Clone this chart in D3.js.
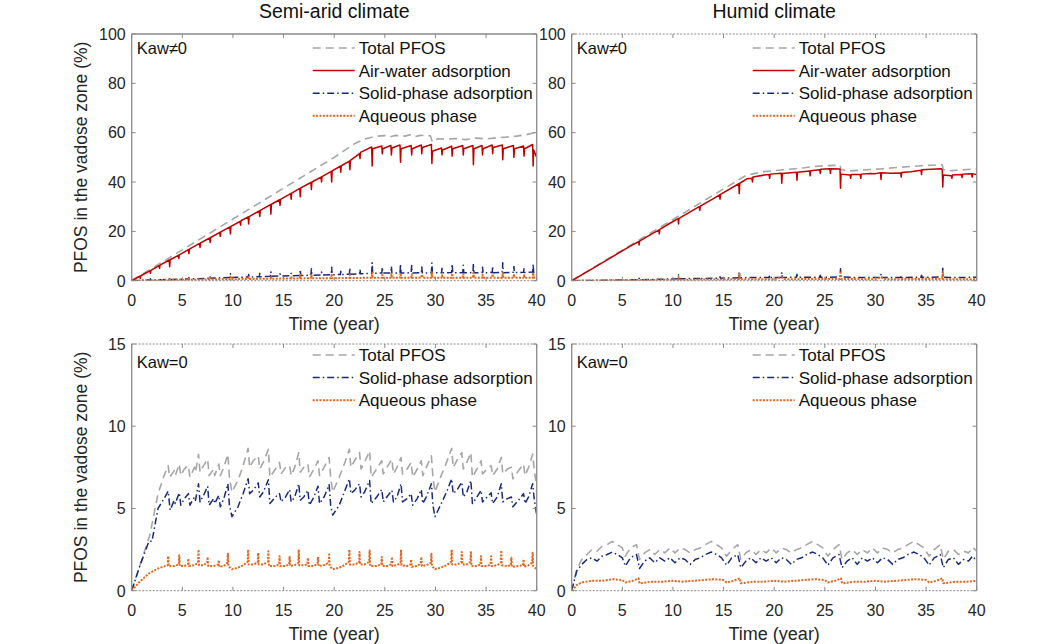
<!DOCTYPE html>
<html>
<head>
<meta charset="utf-8">
<script src="https://cdn.jsdelivr.net/npm/d3@7"></script>
<style>
  body { margin: 0; background: #fff; }
  svg { font-family: "Liberation Sans", Arial, sans-serif; }
</style>
</head>
<body>
<svg id="chart" width="1050" height="644"></svg>
<script>
// ---- data: [time (year), % of PFOS in vadose zone] ----
const semiTotal = [[0,0],[2,5],[5,12.5],[10,25],[15,37.5],[20,50],[22,55.5],[23,57.4],[24,58.5],[25,58.8],[25.5,58.3],[26,58.9],[27,58.6],[27.5,59.2],[28,58.4],[28.5,58.9],[29.5,58.7],[29.7,56.2],[30.2,57.5],[31,57.4],[32,57.6],[33,57.2],[34,57.8],[35,57.5],[36,57.9],[37,58.2],[38,58.6],[39,59.2],[39.8,60],[40,58.5]];
const semiAirWater = [[0,0],[0.8,1.8],[0.85,1.0],[0.9,2.0],[1.8,4.0],[1.85,3.0],[1.9,4.2],[2.7,6.1],[2.75,5.0],[2.8,6.3],[3.7,8.4],[3.75,5.7],[3.8,8.5],[4.6,10.3],[4.65,9.0],[4.7,10.5],[5.6,12.6],[5.65,11.0],[5.7,12.8],[6.7,15.1],[6.75,13.5],[6.8,15.3],[7.7,17.3],[7.75,15.5],[7.8,17.5],[8.7,19.6],[8.75,18.0],[8.8,19.8],[9.7,21.8],[9.75,19.0],[9.8,22.0],[10.7,24.0],[10.75,22.5],[10.8,24.3],[11.5,25.9],[11.55,23.0],[11.6,26.0],[12.6,28.3],[12.65,26.0],[12.7,28.5],[13.7,30.8],[13.75,27.0],[13.8,31.0],[14.6,32.8],[14.65,30.5],[14.7,33.0],[15.7,35.3],[15.75,33.0],[15.8,35.5],[16.6,37.4],[16.65,34.0],[16.7,37.6],[17.7,39.8],[17.75,37.0],[17.8,40.0],[18.7,42.0],[18.75,40.0],[18.8,42.2],[19.7,44.3],[19.75,40.0],[19.8,44.5],[20.6,46.4],[20.65,44.0],[20.7,46.6],[21.5,48.5],[21.55,45.0],[21.6,48.8],[22.5,51.5],[22.55,49.5],[22.6,52],[23.7,54.2],[23.75,46.5],[23.8,53.5],[24.7,54.6],[24.75,51.5],[24.8,53.5],[25.6,54.8],[25.65,51],[25.7,53.8],[26.5,55],[26.55,48],[26.6,53.5],[27.6,54.8],[27.65,51],[27.7,53.5],[28.6,55],[28.65,51.5],[28.7,54],[29.6,55.2],[29.65,47.5],[29.7,52.5],[30.6,53.8],[30.65,51],[30.7,53],[31.6,54.5],[31.65,50.5],[31.7,53.5],[32.7,54.8],[32.75,51],[32.8,53.5],[33.7,54.8],[33.75,47],[33.8,53.5],[34.6,54.8],[34.65,51],[34.7,53.5],[35.6,55],[35.65,51.5],[35.7,54],[36.6,55],[36.65,49],[36.7,53.5],[37.7,54.8],[37.75,50],[37.8,53.5],[38.7,54.6],[38.75,50.5],[38.8,53.5],[39.6,55.2],[39.65,46.5],[39.7,53],[40,50]];
const semiSolid = [[0,0],[1.8,0.3],[1.85,0.8],[1.9,0.3],[3.7,0.5],[3.75,1.3],[3.8,0.5],[5.6,0.7],[5.65,1.3],[5.7,0.7],[7.7,1.0],[7.75,1.8],[7.8,1.0],[9.7,1.3],[9.75,2.8],[9.8,1.3],[11.5,1.5],[11.55,2.5],[11.6,1.5],[12.6,1.6],[12.65,3.0],[12.7,1.6],[13.7,1.8],[13.75,3.6],[13.8,1.8],[14.6,1.9],[14.65,2.8],[14.7,1.9],[15.7,2.0],[15.75,3.0],[15.8,2.0],[16.6,2.1],[16.65,4.5],[16.7,2.1],[17.7,2.2],[17.75,4.8],[17.8,2.2],[18.7,2.3],[18.75,3.5],[18.8,2.3],[19.7,2.4],[19.75,5.5],[19.8,2.4],[20.6,2.5],[20.65,3.8],[20.7,2.5],[21.5,2.6],[21.55,5.2],[21.6,2.6],[22.5,2.8],[22.55,4.5],[22.6,2.8],[23.7,3.0],[23.75,7.3],[23.8,3.0],[24.7,3.1],[24.75,5.5],[24.8,3.1],[25.6,3.1],[25.65,5.8],[25.7,3.1],[26.5,3.2],[26.55,6.8],[26.6,3.1],[27.6,3.2],[27.65,6.2],[27.7,3.1],[28.6,3.2],[28.65,5.6],[28.7,3.1],[29.6,3.2],[29.65,7.2],[29.7,3.2],[30.6,3.2],[30.65,5.0],[30.7,3.2],[31.6,3.3],[31.65,6.8],[31.7,3.2],[32.7,3.3],[32.75,6.3],[32.8,3.2],[33.7,3.3],[33.75,7.0],[33.8,3.2],[34.6,3.3],[34.65,5.5],[34.7,3.2],[35.6,3.3],[35.65,6.0],[35.7,3.2],[36.6,3.4],[36.65,7.3],[36.7,3.2],[37.7,3.4],[37.75,5.8],[37.8,3.3],[38.7,3.4],[38.75,4.8],[38.8,3.3],[39.6,3.5],[39.65,6.8],[39.7,3.4],[40,3.5]];
const semiAqueous = [[0,0],[1.8,0.2],[1.85,0.6],[1.9,0.2],[3.7,0.3],[3.75,1.0],[3.8,0.3],[5.6,0.4],[5.65,0.9],[5.7,0.4],[7.7,0.5],[7.75,1.3],[7.8,0.5],[9.7,0.6],[9.75,1.6],[9.8,0.6],[11.5,0.7],[11.55,1.4],[11.6,0.7],[13.7,0.8],[13.75,1.8],[13.8,0.8],[15.7,0.9],[15.75,1.7],[15.8,0.9],[16.6,0.9],[16.65,2.4],[16.7,0.9],[17.7,1.0],[17.75,2.2],[17.8,1.0],[19.7,1.0],[19.75,2.8],[19.8,1.0],[21.5,1.1],[21.55,2.5],[21.6,1.1],[23.7,1.2],[23.75,3.3],[23.8,1.2],[24.7,1.2],[24.75,2.4],[24.8,1.2],[25.6,1.2],[25.65,2.8],[25.7,1.2],[26.5,1.2],[26.55,3.2],[26.6,1.2],[27.6,1.2],[27.65,2.6],[27.7,1.2],[28.6,1.2],[28.65,2.5],[28.7,1.2],[29.6,1.2],[29.65,3.4],[29.7,1.2],[30.6,1.2],[30.65,2.2],[30.7,1.2],[31.6,1.2],[31.65,3.0],[31.7,1.2],[32.7,1.2],[32.75,2.7],[32.8,1.2],[33.7,1.2],[33.75,3.2],[33.8,1.2],[34.6,1.2],[34.65,2.4],[34.7,1.2],[35.6,1.2],[35.65,2.7],[35.7,1.2],[36.6,1.2],[36.65,3.3],[36.7,1.2],[37.7,1.2],[37.75,2.6],[37.8,1.2],[38.7,1.2],[38.75,2.2],[38.8,1.2],[39.6,1.2],[39.65,3.2],[39.7,1.2],[40,1.3]];

const humidTotal = [[0,0],[5,12.4],[10,24.8],[15,37.2],[16.5,40.9],[17.2,42.6],[18,43.4],[19,44.2],[20,44.6],[21,45],[22,45.4],[23,45.8],[24,46.3],[25,46.6],[26.5,46.8],[26.6,45],[27.5,44.5],[28.5,44.8],[29.5,45.1],[30.5,45.3],[31.5,45.7],[32.5,46],[33.5,46.3],[34.5,46.6],[35.5,46.8],[36.6,47],[36.7,45],[37.5,44.6],[38.5,44.9],[39.5,45.2],[40,45.4]];
const humidAirWater = [[0,0],[2,4.8],[4,9.7],[6,14.5],[6.6,15.8],[6.65,14.5],[6.7,16],[8,19.2],[8.6,20.5],[8.65,19],[8.7,20.8],[10,24],[10.5,25.2],[10.55,23],[10.6,25.3],[12,28.6],[12.6,30],[12.65,28.5],[12.7,30.2],[14,33.3],[14.6,34.8],[14.65,33],[14.7,35],[16.5,39.3],[16.55,35.3],[16.6,39.5],[17.3,41.3],[17.8,41.5],[17.85,40],[17.9,42],[19,42.8],[19.5,43],[19.55,41.5],[19.6,43.2],[20.7,43.6],[20.75,39.5],[20.8,43.5],[22.2,44],[22.25,40.7],[22.3,44],[23.5,44.5],[23.55,42.5],[23.6,44.6],[24.5,45],[24.55,43.5],[24.6,45.2],[25.5,45.4],[25.55,43.5],[25.6,45.4],[26.5,45.3],[26.55,37.5],[26.6,43.2],[27.5,42.8],[27.55,41.5],[27.6,43],[28.5,43],[28.55,41.5],[28.6,43.2],[29.5,43.5],[30,43.4],[30.5,43.8],[30.55,41],[30.6,43.8],[31.5,43.6],[32.5,43.7],[32.55,42],[32.6,43.9],[33.5,44.2],[34.5,44.8],[34.55,43],[34.6,45],[35.5,45.2],[36.5,45.4],[36.6,44.8],[36.65,38],[36.7,42.8],[37.5,42.5],[37.55,41.5],[37.6,42.8],[38.5,43],[38.55,41.8],[38.6,43.2],[39.5,43.4],[39.55,42],[39.6,43.4],[40,43]];
const humidSolid = [[0,0],[5,0.3],[6.6,0.4],[6.65,1.0],[6.7,0.4],[10,0.7],[10.5,0.8],[10.55,2.4],[10.6,0.8],[12.6,0.9],[12.65,1.5],[12.7,0.9],[14.6,1.0],[14.65,1.6],[14.7,1.0],[16.5,1.2],[16.55,3.8],[16.6,1.2],[18,1.3],[19.5,1.3],[19.55,2.2],[19.6,1.3],[20.7,1.3],[20.75,3.4],[20.8,1.3],[22.2,1.4],[22.25,2.6],[22.3,1.4],[24.5,1.4],[24.55,2.2],[24.6,1.4],[26.5,1.5],[26.55,4.8],[26.6,1.5],[28,1.3],[30.5,1.3],[30.55,2.8],[30.6,1.3],[32.5,1.3],[32.55,2.3],[32.6,1.3],[34.5,1.4],[34.55,2.2],[34.6,1.4],[36.6,1.5],[36.65,5],[36.7,1.4],[38,1.3],[40,1.4]];
const humidAqueous = [[0,0],[5,0.2],[10,0.4],[10.5,0.4],[10.55,1.5],[10.6,0.4],[15,0.5],[16.5,0.6],[16.55,2.8],[16.6,0.6],[20,0.6],[20.75,1.5],[21,0.6],[25,0.7],[26.5,0.7],[26.55,3.2],[26.6,0.7],[30,0.6],[30.55,1.4],[31,0.6],[35,0.7],[36.6,0.7],[36.65,3.5],[36.7,0.6],[40,0.6]];

const semiTotal0 = [[0,0],[1,1.9],[1.8,3.4],[2.6,5.9],[3.2,7.0],[3.6,7.6],[3.75,6.9],[4.2,7.3],[4.3,7.0],[4.7,7.7],[4.85,7.0],[5.2,7.4],[5.6,7.6],[5.75,6.9],[6.2,7.5],[6.3,7.2],[6.6,8.3],[6.75,7.2],[7.1,7.6],[7.5,8.0],[7.65,7.0],[8.1,7.4],[8.2,7.0],[8.6,7.7],[8.75,7.0],[9.1,7.5],[9.5,8.3],[9.65,6.9],[9.9,6.0],[10.5,6.7],[11.0,7.6],[11.5,8.65],[11.65,7.5],[12.0,7.9],[12.5,8.2],[12.65,7.4],[13.0,7.8],[13.5,8.6],[13.65,6.9],[14.2,7.4],[14.6,7.8],[14.75,7.1],[15.2,7.5],[15.6,7.6],[15.75,7.0],[16.1,7.5],[16.5,8.4],[16.65,7.2],[17.0,7.5],[17.4,7.7],[17.55,6.9],[18.0,7.4],[18.4,7.9],[18.55,7.0],[19.0,7.5],[19.5,8.1],[19.65,6.9],[19.85,6.0],[20.5,6.9],[21.0,7.7],[21.5,8.6],[21.65,7.5],[22.0,7.9],[22.5,8.4],[22.65,7.4],[23.0,7.8],[23.5,8.5],[23.65,6.9],[24.2,7.4],[24.7,7.9],[24.85,7.1],[25.2,7.5],[25.7,8.0],[25.85,7.1],[26.2,7.5],[26.6,8.1],[26.75,7.1],[27.2,7.4],[27.6,7.8],[27.75,6.9],[28.2,7.4],[28.6,7.9],[28.75,7.0],[29.1,7.5],[29.6,8.2],[29.75,6.9],[29.95,6.0],[30.5,6.9],[31.1,7.8],[31.6,8.65],[31.75,7.5],[32.1,7.9],[32.6,8.4],[32.75,7.4],[33.1,7.8],[33.5,8.4],[33.65,6.9],[34.1,7.4],[34.5,7.9],[34.65,7.1],[35.1,7.4],[35.5,7.6],[35.65,7.0],[36.1,7.4],[36.5,8.1],[36.65,7.1],[37.1,7.4],[37.5,7.5],[37.65,6.8],[38.2,7.3],[38.7,7.7],[38.85,7.0],[39.2,7.5],[39.6,8.3],[39.75,7.4],[40,6.3]];
const semiSolid0 = [[0,0],[0.8,1.5],[1.7,3.0],[2.0,3.0],[2.6,5.0],[3.2,5.6],[3.6,6.05],[3.8,4.9],[4.2,5.5],[4.3,5.3],[4.7,5.95],[4.85,5.2],[5.2,5.6],[5.6,5.9],[5.75,5.2],[6.2,5.7],[6.3,5.5],[6.6,6.5],[6.75,5.4],[7.1,5.8],[7.5,6.35],[7.65,5.2],[8.1,5.6],[8.2,5.3],[8.6,5.8],[8.75,5.1],[9.1,5.6],[9.5,6.5],[9.65,5.2],[9.9,4.5],[10.5,5.1],[11.0,5.9],[11.5,6.8],[11.65,5.9],[12.0,6.1],[12.5,6.55],[12.65,5.7],[13.0,6.0],[13.5,6.75],[13.65,5.3],[14.2,5.7],[14.6,5.9],[14.75,5.4],[15.2,5.7],[15.6,6.15],[15.75,5.4],[16.1,5.7],[16.5,6.5],[16.65,5.5],[17.0,5.7],[17.4,6.1],[17.55,5.2],[18.0,5.7],[18.4,6.35],[18.55,5.3],[19.0,5.7],[19.5,6.45],[19.65,5.2],[19.85,4.6],[20.5,5.2],[21.0,6.0],[21.5,6.8],[21.65,5.9],[22.0,6.1],[22.5,6.5],[22.65,5.7],[23.0,6.0],[23.5,6.7],[23.65,5.3],[24.2,5.7],[24.7,6.15],[24.85,5.4],[25.2,5.7],[25.7,6.1],[25.85,5.4],[26.2,5.7],[26.6,6.5],[26.75,5.4],[27.2,5.6],[27.6,5.9],[27.75,5.2],[28.2,5.6],[28.6,6.15],[28.75,5.3],[29.1,5.7],[29.6,6.5],[29.75,5.2],[29.95,4.5],[30.5,5.2],[31.1,6.0],[31.6,6.8],[31.75,5.9],[32.1,6.1],[32.6,6.6],[32.75,5.7],[33.1,6.0],[33.5,6.7],[33.65,5.3],[34.1,5.7],[34.5,6.1],[34.65,5.4],[35.1,5.7],[35.5,5.95],[35.65,5.3],[36.1,5.7],[36.5,6.5],[36.65,5.4],[37.1,5.6],[37.5,5.7],[37.65,5.1],[38.2,5.5],[38.7,5.9],[38.85,5.3],[39.2,5.7],[39.6,6.5],[39.75,5.6],[40,4.6]];
const semiAqueous0 = [[0,0],[0.8,0.55],[1.7,1.05],[2.6,1.35],[3.55,1.55],[3.6,2.1],[3.65,1.5],[4.2,1.5],[4.65,1.6],[4.7,2.15],[4.75,1.5],[5.2,1.5],[5.55,1.6],[5.6,1.95],[5.65,1.5],[6.2,1.55],[6.55,1.7],[6.6,2.5],[6.65,1.55],[7.1,1.55],[7.45,1.7],[7.5,2.05],[7.55,1.5],[8.1,1.5],[8.55,1.6],[8.6,1.85],[8.65,1.45],[9.1,1.5],[9.45,1.7],[9.5,2.25],[9.55,1.5],[9.9,1.3],[10.5,1.4],[11.0,1.55],[11.45,1.75],[11.5,2.5],[11.55,1.6],[12.0,1.6],[12.45,1.7],[12.5,2.3],[12.55,1.6],[13.0,1.6],[13.45,1.75],[13.5,2.4],[13.55,1.5],[14.2,1.5],[14.55,1.6],[14.6,2.1],[14.65,1.5],[15.2,1.5],[15.55,1.6],[15.6,2.05],[15.65,1.5],[16.1,1.55],[16.45,1.7],[16.5,2.45],[16.55,1.55],[17.0,1.55],[17.35,1.6],[17.4,2.0],[17.45,1.5],[18.0,1.5],[18.35,1.65],[18.4,2.05],[18.45,1.5],[19.0,1.55],[19.45,1.7],[19.5,2.2],[19.55,1.5],[19.85,1.3],[20.5,1.4],[21.0,1.55],[21.45,1.75],[21.5,2.5],[21.55,1.6],[22.0,1.6],[22.45,1.7],[22.5,2.35],[22.55,1.6],[23.0,1.6],[23.45,1.75],[23.5,2.45],[23.55,1.5],[24.2,1.5],[24.65,1.6],[24.7,2.05],[24.75,1.5],[25.2,1.5],[25.65,1.6],[25.7,2.05],[25.75,1.5],[26.2,1.55],[26.55,1.7],[26.6,2.5],[26.65,1.55],[27.2,1.5],[27.55,1.6],[27.6,1.9],[27.65,1.45],[28.2,1.5],[28.55,1.65],[28.6,2.05],[28.65,1.5],[29.1,1.55],[29.55,1.7],[29.6,2.25],[29.65,1.5],[29.95,1.3],[30.5,1.4],[31.1,1.55],[31.55,1.75],[31.6,2.5],[31.65,1.6],[32.1,1.6],[32.55,1.7],[32.6,2.35],[32.65,1.6],[33.1,1.6],[33.45,1.75],[33.5,2.4],[33.55,1.5],[34.1,1.5],[34.45,1.6],[34.5,2.1],[34.55,1.5],[35.1,1.5],[35.45,1.6],[35.5,2.1],[35.55,1.5],[36.1,1.55],[36.45,1.7],[36.5,2.45],[36.55,1.55],[37.1,1.5],[37.45,1.55],[37.5,2.0],[37.55,1.45],[38.2,1.5],[38.65,1.55],[38.7,1.9],[38.75,1.45],[39.2,1.55],[39.55,1.7],[39.6,2.3],[39.65,1.5],[40,1.3]];

const humidTotal0 = [[0,0],[0.5,1.3],[1,1.9],[1.5,2.2],[2,2.5],[2.5,2.4],[3,2.7],[3.5,2.8],[4,3.0],[4.5,2.8],[5,2.6],[5.3,2.1],[5.8,2.6],[6.4,2.8],[6.7,1.9],[7.2,2.3],[7.7,2.5],[8.2,2.2],[8.7,2.5],[9.2,2.3],[9.7,2.6],[10.2,2.3],[10.7,2.6],[11.2,2.5],[11.7,2.3],[12.2,2.5],[12.7,2.6],[13.2,2.8],[13.8,3.0],[14.3,2.8],[14.8,2.6],[15.3,2.1],[15.8,2.5],[16.4,2.8],[16.7,1.9],[17.2,2.3],[17.7,2.5],[18.2,2.2],[18.7,2.5],[19.2,2.3],[19.7,2.6],[20.2,2.3],[20.7,2.6],[21.2,2.5],[21.7,2.3],[22.2,2.5],[22.7,2.6],[23.2,2.8],[23.8,3.0],[24.3,2.8],[24.8,2.6],[25.3,2.1],[25.8,2.5],[26.4,2.8],[26.7,1.9],[27.2,2.3],[27.7,2.5],[28.2,2.2],[28.7,2.5],[29.2,2.3],[29.7,2.6],[30.2,2.3],[30.7,2.6],[31.2,2.5],[31.7,2.3],[32.2,2.5],[32.7,2.6],[33.2,2.8],[33.8,3.0],[34.3,2.8],[34.8,2.6],[35.3,2.1],[35.8,2.5],[36.4,2.8],[36.7,1.9],[37.2,2.4],[37.7,2.5],[38.2,2.2],[38.7,2.4],[39.2,2.3],[39.6,2.65],[40,2.4]];
const humidSolid0 = [[0,0],[0.5,1.2],[1,1.6],[1.5,1.9],[2,2.0],[2.5,1.8],[3,2.1],[3.5,2.2],[4,2.35],[4.5,2.2],[5,2.0],[5.3,1.5],[5.8,2.0],[6.4,2.2],[6.7,1.35],[7.2,1.8],[7.7,2.0],[8.2,1.7],[8.7,2.0],[9.2,1.8],[9.7,2.0],[10.2,1.7],[10.7,2.0],[11.2,1.9],[11.7,1.6],[12.2,1.9],[12.7,2.0],[13.2,2.2],[13.8,2.35],[14.3,2.2],[14.8,2.0],[15.3,1.55],[15.8,2.0],[16.4,2.2],[16.7,1.4],[17.2,1.8],[17.7,2.0],[18.2,1.7],[18.7,2.0],[19.2,1.8],[19.7,2.0],[20.2,1.7],[20.7,2.0],[21.2,1.9],[21.7,1.6],[22.2,1.9],[22.7,2.0],[23.2,2.2],[23.8,2.35],[24.3,2.2],[24.8,2.0],[25.3,1.55],[25.8,2.0],[26.4,2.2],[26.7,1.4],[27.2,1.8],[27.7,2.0],[28.2,1.6],[28.7,2.0],[29.2,1.8],[29.7,2.0],[30.2,1.7],[30.7,2.0],[31.2,1.9],[31.7,1.6],[32.2,1.9],[32.7,2.0],[33.2,2.2],[33.8,2.35],[34.3,2.2],[34.8,2.0],[35.3,1.55],[35.8,2.0],[36.4,2.2],[36.7,1.4],[37.2,1.9],[37.7,2.0],[38.2,1.6],[38.7,1.9],[39.2,1.8],[39.6,2.1],[40,1.8]];
const humidAqueous0 = [[0,0],[0.5,0.35],[1,0.5],[2,0.6],[3,0.6],[4,0.7],[5,0.65],[5.3,0.5],[6,0.6],[6.6,0.75],[6.7,0.45],[8,0.55],[9,0.55],[10,0.6],[11,0.55],[12,0.6],[13,0.65],[14,0.7],[15,0.65],[15.3,0.5],[16,0.6],[16.6,0.75],[16.7,0.45],[18,0.55],[19,0.55],[20,0.6],[21,0.55],[22,0.6],[23,0.65],[24,0.7],[25,0.65],[25.3,0.5],[26,0.6],[26.6,0.75],[26.7,0.45],[28,0.55],[29,0.55],[30,0.6],[31,0.55],[32,0.6],[33,0.65],[34,0.7],[35,0.65],[35.3,0.5],[36,0.6],[36.6,0.75],[36.7,0.45],[38,0.55],[39,0.55],[40,0.6]];

const xTicks = [0, 5, 10, 15, 20, 25, 30, 35, 40];
const yTicksTop = [0, 20, 40, 60, 80, 100];
const yTicksBottom = [0, 5, 10, 15];
const columnTitles = ["Semi-arid climate", "Humid climate"];

// ---- styles ----
const STYLES = {
  total:    { label: "Total PFOS",             color: "#a6a6a6", width: 1.6, dash: "8,5" },
  airWater: { label: "Air-water adsorption",   color: "#c00000", width: 1.5, dash: null },
  solid:    { label: "Solid-phase adsorption", color: "#1a2a7a", width: 1.5, dash: "7,3,1.5,3" },
  aqueous:  { label: "Aqueous phase",          color: "#e2661c", width: 2,   dash: "2,1.4" }
};

const panels = [
  { col: 0, row: 0, ymax: 100, ticks: yTicksTop, tag: "Kaw\u22600", topSolid: true,
    series: [["total", semiTotal], ["airWater", semiAirWater], ["solid", semiSolid], ["aqueous", semiAqueous]] },
  { col: 1, row: 0, ymax: 100, ticks: yTicksTop, tag: "Kaw\u22600",
    series: [["total", humidTotal], ["airWater", humidAirWater], ["solid", humidSolid], ["aqueous", humidAqueous]] },
  { col: 0, row: 1, ymax: 15, ticks: yTicksBottom, tag: "Kaw=0",
    series: [["total", semiTotal0], ["solid", semiSolid0], ["aqueous", semiAqueous0]] },
  { col: 1, row: 1, ymax: 15, ticks: yTicksBottom, tag: "Kaw=0",
    series: [["total", humidTotal0], ["solid", humidSolid0], ["aqueous", humidAqueous0]] }
];

const COL_X = [131.7, 571.7];
const ROW_Y = [34, 344];
const PW = 405, PH = 246.7;
const AXIS = "#8a8a8a", TXT = "#262626";

const svg = d3.select("#chart");

columnTitles.forEach((t, i) => {
  svg.append("text")
    .attr("x", COL_X[i] + PW / 2).attr("y", 18)
    .attr("text-anchor", "middle")
    .attr("font-size", 19.5).attr("fill", "#111")
    .text(t);
});

panels.forEach((p, idx) => {
  const g = svg.append("g").attr("transform", `translate(${COL_X[p.col]},${ROW_Y[p.row]})`);
  const x = d3.scaleLinear().domain([0, 40]).range([0, PW]);
  const y = d3.scaleLinear().domain([0, p.ymax]).range([PH, 0]);

  const clipId = "clip" + idx;
  g.append("clipPath").attr("id", clipId)
    .append("rect").attr("x", 0).attr("y", -2).attr("width", PW).attr("height", PH + 2);

  // tick labels
  g.selectAll(".xl").data(xTicks).join("text")
    .attr("x", d => x(d)).attr("y", PH + 25)
    .attr("text-anchor", "middle").attr("font-size", 16).attr("fill", TXT)
    .text(d => d);
  g.selectAll(".yl").data(p.ticks).join("text")
    .attr("x", -6).attr("y", d => y(d) + 5.8)
    .attr("text-anchor", "end").attr("font-size", 16).attr("fill", TXT)
    .text(d => d);

  g.append("text")
    .attr("x", PW / 2).attr("y", PH + 49)
    .attr("text-anchor", "middle").attr("font-size", 18).attr("fill", TXT)
    .text("Time (year)");

  if (p.col === 0) {
    g.append("text")
      .attr("transform", `translate(-45,${PH / 2}) rotate(-90)`)
      .attr("text-anchor", "middle").attr("font-size", 17.5).attr("fill", TXT)
      .text("PFOS in the vadose zone (%)");
  }

  // data lines
  const line = d3.line().x(d => x(d[0])).y(d => y(d[1]));
  const lines = g.append("g").attr("clip-path", `url(#${clipId})`);
  p.series.forEach(([key, data]) => {
    const s = STYLES[key];
    lines.append("path")
      .datum(data)
      .attr("d", line)
      .attr("fill", "none")
      .attr("stroke", s.color)
      .attr("stroke-width", s.width)
      .attr("stroke-dasharray", s.dash)
      .attr("stroke-linejoin", "round");
  });

  // frame: left/right solid, top/bottom dotted
  g.append("line").attr("x1", 0).attr("x2", 0).attr("y1", 0).attr("y2", PH)
    .attr("stroke", AXIS).attr("stroke-width", 1.3);
  g.append("line").attr("x1", PW).attr("x2", PW).attr("y1", 0).attr("y2", PH)
    .attr("stroke", AXIS).attr("stroke-width", 1.3);
  g.append("line").attr("x1", 0).attr("x2", PW).attr("y1", 0).attr("y2", 0)
    .attr("stroke", AXIS).attr("stroke-width", p.topSolid ? 1.3 : 1)
    .attr("stroke-dasharray", p.topSolid ? null : "2,1.5");
  g.append("line").attr("x1", 0).attr("x2", PW).attr("y1", PH).attr("y2", PH)
    .attr("stroke", AXIS).attr("stroke-width", 1)
    .attr("stroke-dasharray", "2,1.5");

  // inward ticks on all four sides
  xTicks.forEach(t => {
    g.append("line").attr("x1", x(t)).attr("x2", x(t)).attr("y1", PH).attr("y2", PH - 4).attr("stroke", AXIS);
    g.append("line").attr("x1", x(t)).attr("x2", x(t)).attr("y1", 0).attr("y2", 4).attr("stroke", AXIS);
  });
  p.ticks.forEach(t => {
    g.append("line").attr("x1", 0).attr("x2", 4).attr("y1", y(t)).attr("y2", y(t)).attr("stroke", AXIS);
    g.append("line").attr("x1", PW).attr("x2", PW - 4).attr("y1", y(t)).attr("y2", y(t)).attr("stroke", AXIS);
  });

  // panel tag
  g.append("text")
    .attr("x", 5).attr("y", p.row === 0 ? 19.5 : 23.5)
    .attr("font-size", 16.5).attr("fill", "#111")
    .text(p.tag);

  // legend
  const leg = g.append("g").attr("transform", `translate(181,${p.row === 0 ? 14 : 11})`);
  p.series.forEach(([key], i) => {
    const s = STYLES[key];
    const ly = i * 22.6;
    leg.append("line")
      .attr("x1", 0).attr("x2", 42).attr("y1", ly).attr("y2", ly)
      .attr("stroke", s.color).attr("stroke-width", s.width)
      .attr("stroke-dasharray", s.dash);
    leg.append("text")
      .attr("x", 46).attr("y", ly + 6)
      .attr("font-size", 17).attr("fill", "#111")
      .text(s.label);
  });
});
</script>
</body>
</html>
